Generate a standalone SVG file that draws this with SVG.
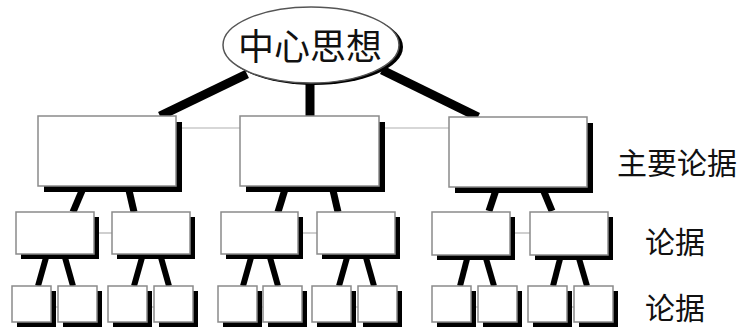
<svg xmlns="http://www.w3.org/2000/svg" width="742" height="329" viewBox="0 0 742 329">
<style>
.sh{fill:#000}
.bx{fill:#fff;stroke:#8a8a8a;stroke-width:1.5}
.thin{stroke:#b0b0b0;stroke-width:1.2;fill:none}
.k1{stroke:#000;stroke-width:9;fill:none}
.k2{stroke:#000;stroke-width:7;fill:none}
.k3{stroke:#000;stroke-width:6;fill:none}
.t{font-family:"Noto Sans CJK SC","Noto Sans",sans-serif;fill:#111}
</style>
<rect width="742" height="329" fill="#fff"/>
<g id="connectors">
<line class="thin" x1="176" y1="128" x2="240" y2="128"/>
<line class="thin" x1="378" y1="128" x2="449" y2="128"/>
<line class="thin" x1="94" y1="233" x2="112" y2="233"/>
<line class="thin" x1="299" y1="233" x2="317" y2="233"/>
<line class="thin" x1="510" y1="233" x2="530" y2="233"/>
<line class="thin" x1="51" y1="307" x2="58" y2="307"/>
<line class="thin" x1="147" y1="307" x2="154" y2="307"/>
<line class="thin" x1="257" y1="307" x2="263" y2="307"/>
<line class="thin" x1="351" y1="307" x2="358" y2="307"/>
<line class="thin" x1="471" y1="307" x2="478" y2="307"/>
<line class="thin" x1="567" y1="307" x2="574" y2="307"/>
<line class="k1" x1="247" y1="74" x2="160" y2="116"/>
<line class="k1" x1="310" y1="82" x2="310" y2="116"/>
<line class="k1" x1="382" y1="70" x2="478" y2="117"/>
<line class="k2" x1="84" y1="186" x2="73" y2="212"/>
<line class="k2" x1="128" y1="186" x2="134" y2="212"/>
<line class="k2" x1="286" y1="186" x2="278" y2="212"/>
<line class="k2" x1="332" y1="186" x2="338" y2="212"/>
<line class="k2" x1="497" y1="187" x2="489" y2="211"/>
<line class="k2" x1="542" y1="187" x2="552" y2="211"/>
<line class="k3" x1="47" y1="254" x2="38" y2="286"/>
<line class="k3" x1="64" y1="254" x2="73" y2="286"/>
<line class="k3" x1="143" y1="254" x2="134" y2="286"/>
<line class="k3" x1="160" y1="254" x2="169" y2="286"/>
<line class="k3" x1="252" y1="254" x2="243" y2="286"/>
<line class="k3" x1="269" y1="254" x2="278" y2="286"/>
<line class="k3" x1="348" y1="254" x2="339" y2="286"/>
<line class="k3" x1="365" y1="254" x2="374" y2="286"/>
<line class="k3" x1="468" y1="255" x2="460" y2="286"/>
<line class="k3" x1="485" y1="255" x2="494" y2="286"/>
<line class="k3" x1="561" y1="255" x2="553" y2="286"/>
<line class="k3" x1="578" y1="255" x2="587" y2="286"/>
</g>
<g id="center">
<ellipse cx="314" cy="47" rx="89" ry="38" class="sh"/>
<ellipse cx="311" cy="45" rx="88" ry="38" fill="#fff" stroke="#555" stroke-width="1.5"/>
<text class="t" x="310" y="60" font-size="36" text-anchor="middle">中心思想</text>
</g>
<g id="main1"><rect class="sh" x="44" y="122" width="138" height="70"/><rect class="bx" x="38" y="116" width="138" height="70"/></g>
<g id="main2"><rect class="sh" x="246" y="122" width="139" height="70"/><rect class="bx" x="240" y="116" width="139" height="70"/></g>
<g id="main3"><rect class="sh" x="455" y="123" width="138" height="70"/><rect class="bx" x="449" y="117" width="138" height="70"/></g>
<g id="mid1"><rect class="sh" x="21" y="217" width="78" height="42"/><rect class="bx" x="16" y="212" width="78" height="42"/></g>
<g id="mid2"><rect class="sh" x="117" y="217" width="78" height="42"/><rect class="bx" x="112" y="212" width="78" height="42"/></g>
<g id="mid3"><rect class="sh" x="226" y="217" width="77" height="42"/><rect class="bx" x="221" y="212" width="77" height="42"/></g>
<g id="mid4"><rect class="sh" x="322" y="217" width="78" height="42"/><rect class="bx" x="317" y="212" width="78" height="42"/></g>
<g id="mid5"><rect class="sh" x="437" y="217" width="78" height="43"/><rect class="bx" x="432" y="212" width="78" height="43"/></g>
<g id="mid6"><rect class="sh" x="535" y="217" width="78" height="43"/><rect class="bx" x="530" y="212" width="78" height="43"/></g>
<g id="leaf1"><rect class="sh" x="17" y="291" width="39" height="36"/><rect class="bx" x="12" y="286" width="39" height="36"/></g>
<g id="leaf2"><rect class="sh" x="63" y="291" width="39" height="36"/><rect class="bx" x="58" y="286" width="39" height="36"/></g>
<g id="leaf3"><rect class="sh" x="113" y="291" width="39" height="36"/><rect class="bx" x="108" y="286" width="39" height="36"/></g>
<g id="leaf4"><rect class="sh" x="159" y="291" width="39" height="36"/><rect class="bx" x="154" y="286" width="39" height="36"/></g>
<g id="leaf5"><rect class="sh" x="223" y="291" width="39" height="36"/><rect class="bx" x="218" y="286" width="39" height="36"/></g>
<g id="leaf6"><rect class="sh" x="268" y="291" width="39" height="36"/><rect class="bx" x="263" y="286" width="39" height="36"/></g>
<g id="leaf7"><rect class="sh" x="317" y="291" width="39" height="36"/><rect class="bx" x="312" y="286" width="39" height="36"/></g>
<g id="leaf8"><rect class="sh" x="363" y="291" width="39" height="36"/><rect class="bx" x="358" y="286" width="39" height="36"/></g>
<g id="leaf9"><rect class="sh" x="437" y="291" width="39" height="36"/><rect class="bx" x="432" y="286" width="39" height="36"/></g>
<g id="leaf10"><rect class="sh" x="483" y="291" width="39" height="36"/><rect class="bx" x="478" y="286" width="39" height="36"/></g>
<g id="leaf11"><rect class="sh" x="533" y="291" width="39" height="36"/><rect class="bx" x="528" y="286" width="39" height="36"/></g>
<g id="leaf12"><rect class="sh" x="579" y="291" width="39" height="36"/><rect class="bx" x="574" y="286" width="39" height="36"/></g>
<g id="labels">
<text class="t" x="617" y="174" font-size="30">主要论据</text>
<text class="t" x="645" y="253" font-size="30">论据</text>
<text class="t" x="645" y="319" font-size="30">论据</text>
</g>
</svg>
